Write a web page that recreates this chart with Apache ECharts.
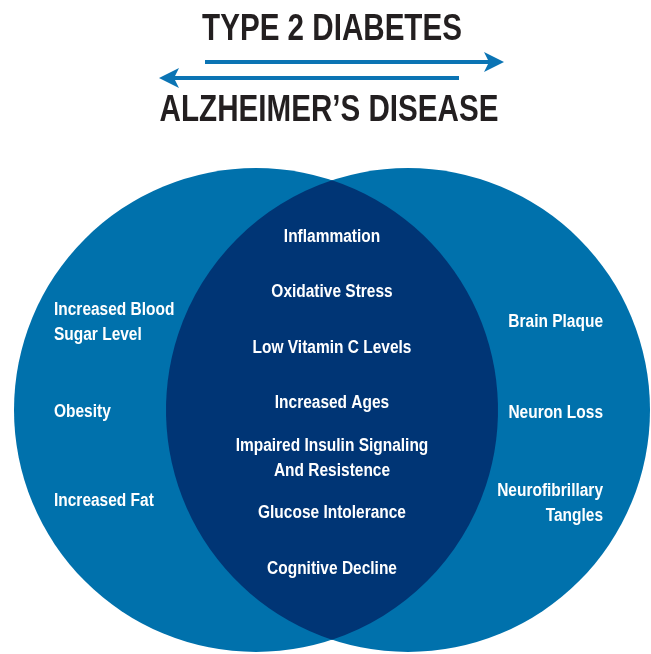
<!DOCTYPE html>
<html>
<head>
<meta charset="utf-8">
<script src="https://cdn.jsdelivr.net/npm/echarts@6/dist/echarts.min.js"></script>
<style>
  html, body { margin: 0; padding: 0; background: #fff; }
  #main { width: 651px; height: 654px; }
</style>
</head>
<body>
<div id="main"></div>
<script>
// titles
var titleTop = 'TYPE 2 DIABETES'
var titleBottom = 'ALZHEIMER\u2019S DISEASE'

// items of each set
var leftItems = ['Increased Blood\nSugar Level', 'Obesity', 'Increased Fat']
var sharedItems = ['Inflammation', 'Oxidative Stress', 'Low Vitamin C Levels', 'Increased Ages',
  'Impaired Insulin Signaling\nAnd Resistence', 'Glucose Intolerance', 'Cognitive Decline']
var rightItems = ['Brain Plaque', 'Neuron Loss', 'Neurofibrillary\nTangles']

// layout (pixel-space coordinates, axes are mapped 1:1)
var W = 651, H = 654
var R = 242
var circles = [[256, 410], [408, 410]]
var FAMILY = '"Liberation Sans", Arial, sans-serif'
var FONT = 'bold 18px ' + FAMILY
var BLUE = '#0071ac', NAVY = '#003575', ARROW = '#0b74b4'

var chart = echarts.init(document.getElementById('main'))

function lensPath(api) {
  var c0 = circles[0], c1 = circles[1]
  var d = c1[0] - c0[0]
  var h = Math.sqrt(R * R - (d / 2) * (d / 2))
  var mx = (c0[0] + c1[0]) / 2
  var top = api.coord([mx, c0[1] - h])
  var bot = api.coord([mx, c0[1] + h])
  var r = api.size([R, 0])[0]
  return 'M' + top[0] + ' ' + top[1] +
    ' A' + r + ' ' + r + ' 0 0 1 ' + bot[0] + ' ' + bot[1] +
    ' A' + r + ' ' + r + ' 0 0 1 ' + top[0] + ' ' + top[1] + ' Z'
}

function labelsFor(items, x, y0, step, align) {
  return items.map(function (t, i) { return [x, y0 + i * step, t, align] })
}

var labelData = []
  .concat(labelsFor(leftItems, 54, 323, 89, 'left'))
  .concat(labelsFor(sharedItems, 332, 237, 55.3, 'center'))
  .concat(labelsFor(rightItems, 603, 322, 91, 'right'))

chart.setOption({
  animation: false,
  grid: { left: 0, right: 0, top: 0, bottom: 0 },
  xAxis: { type: 'value', min: 0, max: W, show: false },
  yAxis: { type: 'value', min: 0, max: H, inverse: true, show: false },
  graphic: [
    { type: 'text', x: 332, y: 30, scaleX: 0.8, style: { text: titleTop, font: 'bold 37px ' + FAMILY, fill: '#231f20', align: 'center', verticalAlign: 'middle' } },
    { type: 'text', x: 329, y: 111, scaleX: 0.8, style: { text: titleBottom, font: 'bold 37px ' + FAMILY, fill: '#231f20', align: 'center', verticalAlign: 'middle' } },
    // right arrow
    { type: 'rect', shape: { x: 205, y: 60, width: 285, height: 4 }, style: { fill: ARROW } },
    { type: 'polygon', shape: { points: [[484, 52], [504, 62], [484, 72], [489, 62]] }, style: { fill: ARROW } },
    // left arrow
    { type: 'rect', shape: { x: 172, y: 76, width: 287, height: 4 }, style: { fill: ARROW } },
    { type: 'polygon', shape: { points: [[179, 68], [159, 78], [179, 88], [174, 78]] }, style: { fill: ARROW } }
  ],
  series: [
    {
      type: 'custom',
      coordinateSystem: 'cartesian2d',
      data: circles,
      renderItem: function (params, api) {
        var p = api.coord([api.value(0), api.value(1)])
        var r = api.size([R, 0])[0]
        return { type: 'circle', shape: { cx: p[0], cy: p[1], r: r }, style: { fill: BLUE } }
      },
      silent: true
    },
    {
      type: 'custom',
      coordinateSystem: 'cartesian2d',
      data: [[0, 0]],
      renderItem: function (params, api) {
        return { type: 'path', shape: { pathData: lensPath(api) }, style: { fill: NAVY } }
      },
      silent: true
    },
    {
      type: 'custom',
      coordinateSystem: 'cartesian2d',
      data: labelData,
      dimensions: ['x', 'y', 'text', 'align'],
      renderItem: function (params, api) {
        var d = labelData[params.dataIndex]
        var p = api.coord([d[0], d[1]])
        return {
          type: 'text',
          x: p[0], y: p[1], scaleX: 0.86,
          style: {
            text: d[2], font: FONT, fill: '#ffffff',
            align: d[3], verticalAlign: 'middle', lineHeight: 25
          }
        }
      },
      silent: true
    }
  ]
})
</script>
</body>
</html>
